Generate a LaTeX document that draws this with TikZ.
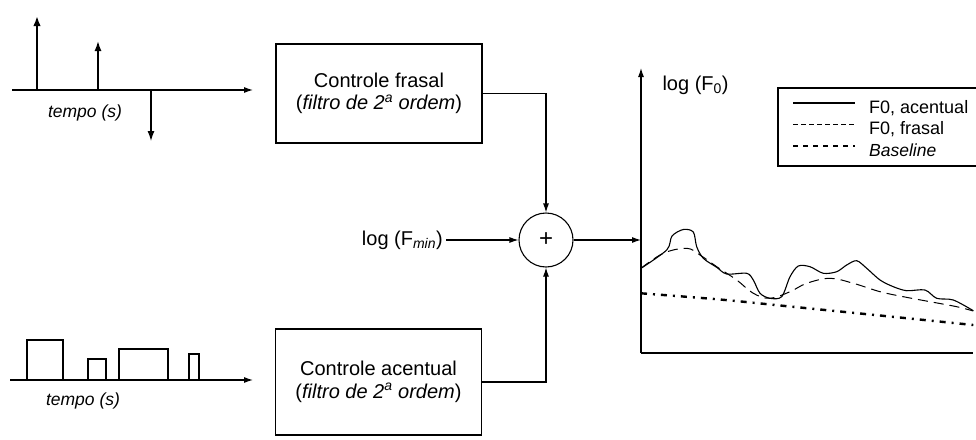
\documentclass[tikz,border=0pt]{standalone}
\usepackage{fontspec}
\setmainfont{Liberation Sans}
\usetikzlibrary{arrows.meta}
\begin{document}
\begin{tikzpicture}[x=1pt,y=-1pt,
  ln/.style={line width=1.1pt},
  arr/.style={ln,-{Latex[length=9pt,width=6pt]}},
  big/.style={font=\fontsize{20}{22.5}\selectfont},
  small/.style={font=\fontsize{18}{20}\selectfont},
  smallit/.style={font=\fontsize{17.5}{20}\selectfont\itshape},
  blk/.style={draw,line width=1.1pt,minimum width=206pt,align=center,big,inner sep=0pt},
  solidc/.style={line width=1.1pt},
  dashc/.style={line width=1pt,dash pattern=on 10pt off 6pt},
  basec/.style={line width=2.4pt,dash pattern=on 6pt off 6pt on 2pt off 6pt}]
\useasboundingbox (0,0) rectangle (976,439);

% top impulse signal
\draw[arr] (12,90) -- (253,90);
\draw[line width=2.4pt] (12,90) -- (90,90);
\draw[line width=2.2pt,-{Latex[length=10pt,width=7.5pt]}] (37,90) -- (37,16);
\draw[line width=1.6pt,-{Latex[length=10pt,width=7pt]}] (98,90) -- (98,41);
\draw[line width=1.3pt,-{Latex[length=10pt,width=7pt]}] (151,90) -- (151,141);
\node[smallit] (t1) at (85,113) {tempo (s)};

% bottom pulse signal
\draw[arr] (10,380) -- (253,380);
\draw[ln] (27,380) |- (63,340) -- (63,380);
\draw[ln] (88,380) |- (106,359) -- (106,380);
\draw[ln] (119,380) |- (168,349) -- (168,380);
\draw[ln] (189,380) |- (199,354) -- (199,380);
\node[smallit] (t2) at (83,401) {tempo (s)};

% blocks
\node[blk,minimum height=99pt] (b1) at (379,93.5) {Controle frasal\\(\textit{filtro de 2\textsuperscript{a} ordem})};
\node[blk,minimum height=106pt] (b2) at (378.5,382) {Controle acentual\\(\textit{filtro de 2\textsuperscript{a} ordem})};

% summation
\node[draw,circle,ln,minimum size=54pt,inner sep=0pt,font=\fontsize{24}{24}\selectfont] (sum) at (546,240) {+};
\node[big,anchor=east,inner sep=3pt] (fmin) at (446,240) {log (F\textsubscript{\itshape min})};
\draw[arr] (fmin.east) -- (sum.west);
\draw[arr] (b1.east) -| (sum.north);
\draw[arr] (b2.east) -| (sum.south);

% graph
\coordinate (org) at (641,353);
\coordinate (ytop) at (641,68);
\coordinate (xend) at (973,353);
\coordinate (gin) at (641,240);
\draw[arr] (org) -- (ytop);
\draw[ln] (org) -- (xend);
\draw[arr] (sum.east) -- (gin);
\node[big,anchor=west] (lf0) at (659,85) {log (F\textsubscript{0})};

% curves
\draw[solidc] plot[smooth,tension=0.5] coordinates {(641,268.3) (666.7,250) (672,236) (683.3,229.5) (693.3,232) (696.7,246.7) (703.3,258.3) (716.7,267.3) (726.7,274) (746.7,273.3) (753.3,280) (760,293.3) (770,298.3) (781.7,296.7) (790,276.7) (798.3,266) (810,266.7) (823.3,273.3) (836.7,271.7) (846.7,265) (856.7,260.7) (866.7,268.3) (880,280) (893.3,286.7) (906.7,290.7) (925,290) (936.7,298.3) (953.3,300) (973.3,310.7)};
\draw[dashc] plot[smooth,tension=0.6] coordinates {(641,268.3) (663.3,253.3) (686.7,248.3) (700,255) (716.7,266.7) (736.7,280) (753.3,293.3) (770,298.3) (790,291.7) (806.7,283.3) (830,278.3) (853.3,283.3) (880,291.7) (903.3,296.7) (930,301.7) (956.7,306.7) (973.3,311)};
\draw[basec] plot[smooth] coordinates {(641,293.3) (720,299.5) (790,306.5) (880,315.5) (973.3,325)};

% legend
\draw[ln] (976,88) -- (778,88) -- (778,166) -- (976,166);
\coordinate (la1) at (793,103); \coordinate (lb1) at (855,103);
\coordinate (la2) at (793,124.5); \coordinate (lb2) at (855,124.5);
\coordinate (la3) at (793,146); \coordinate (lb3) at (855,146);
\draw[solidc] (la1) -- (lb1);
\draw[line width=0.9pt,dash pattern=on 5pt off 3pt] (la2) -- (lb2);
\draw[line width=2.4pt,dash pattern=on 5pt off 5pt] (la3) -- (lb3);
\node[small,anchor=base west,inner sep=0pt] (l1) at (869,113) {F0, acentual};
\node[small,anchor=base west,inner sep=0pt] (l2) at (869,134.7) {F0, frasal};
\node[smallit,anchor=base west,inner sep=0pt] (l3) at (869,156) {Baseline};
\end{tikzpicture}
\end{document}
